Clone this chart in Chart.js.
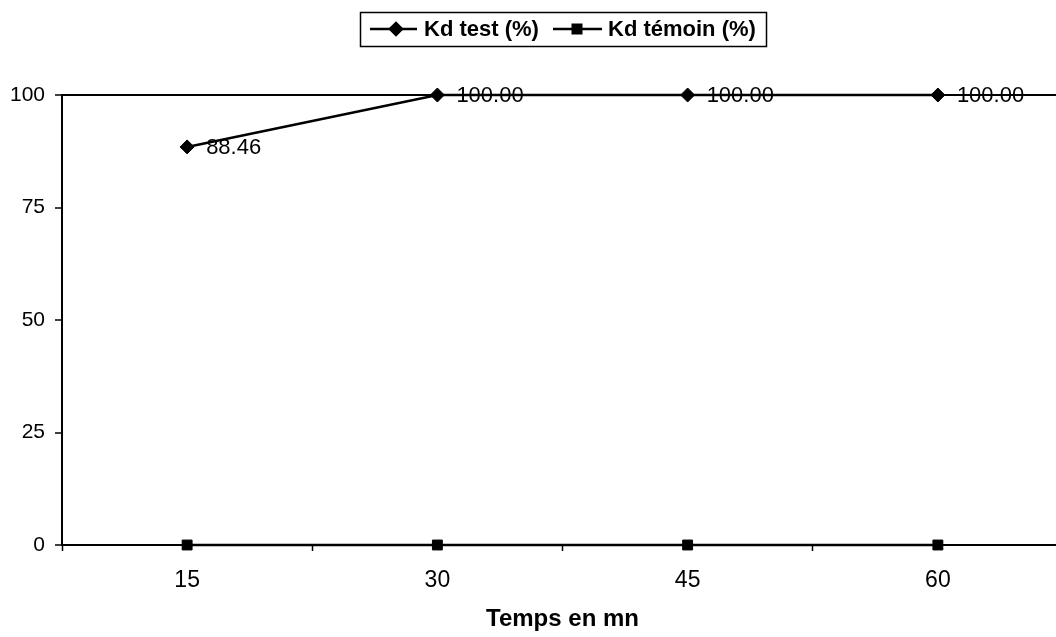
<!DOCTYPE html>
<html>
<head>
<meta charset="utf-8">
<script src="https://cdn.jsdelivr.net/npm/chart.js@4/dist/chart.umd.min.js"></script>
<style>
html,body{margin:0;padding:0;background:#fff;overflow:hidden;}
#wrap{width:1071px;height:637px;}
</style>
</head>
<body>
<div id="wrap"><canvas id="c" width="1071" height="637"></canvas></div>
<script>
const categories = ['15', '30', '45', '60'];
const kdTest = [88.46, 100, 100, 100];
const kdTemoin = [0, 0, 0, 0];
const yTicks = [0, 25, 50, 75, 100];
const seriesNames = ['Kd test (%)', 'Kd témoin (%)'];
const xTitle = 'Temps en mn';

const FONT = '"Liberation Sans", Arial, sans-serif';

const legendPlugin = {
  id: 'boxLegend',
  afterDraw(chart) {
    const ctx = chart.ctx;
    ctx.save();
    ctx.strokeStyle = '#000';
    ctx.lineWidth = 1.5;
    ctx.strokeRect(360.5, 12.5, 406, 34);
    const cy = 29;
    const items = [
      {x0: 370, x1: 417, mx: 396, style: 'rectRot', tx: 424, text: seriesNames[0]},
      {x0: 553, x1: 602, mx: 577, style: 'rect', tx: 608, text: seriesNames[1]}
    ];
    ctx.font = 'bold 22px ' + FONT;
    ctx.textBaseline = 'middle';
    ctx.textAlign = 'left';
    items.forEach(it => {
      ctx.strokeStyle = '#000';
      ctx.lineWidth = 2.5;
      ctx.beginPath();
      ctx.moveTo(it.x0, cy);
      ctx.lineTo(it.x1, cy);
      ctx.stroke();
      Chart.helpers.drawPoint(ctx, {pointStyle: it.style, radius: 6, borderWidth: 1}, it.mx, cy);
      ctx.fillStyle = '#000';
      ctx.fill();
      ctx.fillText(it.text, it.tx, cy + 1);
    });
    ctx.restore();
  }
};

const labelPlugin = {
  id: 'valueLabels',
  afterDatasetsDraw(chart) {
    const ctx = chart.ctx;
    const meta = chart.getDatasetMeta(0);
    ctx.save();
    ctx.font = '22px ' + FONT;
    ctx.fillStyle = '#000';
    ctx.textAlign = 'left';
    ctx.textBaseline = 'middle';
    meta.data.forEach((pt, i) => {
      ctx.fillText(kdTest[i].toFixed(2), pt.x + 19, pt.y + 1);
    });
    ctx.restore();
  }
};

new Chart(document.getElementById('c'), {
  type: 'line',
  data: {
    labels: categories,
    datasets: [
      {
        label: seriesNames[0],
        data: kdTest,
        borderColor: '#000',
        backgroundColor: '#000',
        borderWidth: 2.5,
        pointStyle: 'rectRot',
        pointRadius: 7,
        pointBorderWidth: 1,
        tension: 0,
        clip: false
      },
      {
        label: seriesNames[1],
        data: kdTemoin,
        borderColor: '#000',
        backgroundColor: '#000',
        borderWidth: 2.5,
        pointStyle: 'rect',
        pointRadius: 7,
        pointBorderWidth: 1,
        tension: 0,
        clip: false
      }
    ]
  },
  options: {
    responsive: false,
    animation: false,
    layout: {padding: {top: 95, left: 0, right: 0, bottom: 0}},
    plugins: {
      legend: {display: false},
      tooltip: {enabled: false}
    },
    scales: {
      x: {
        type: 'category',
        offset: true,
        grid: {
          offset: true,
          color: 'transparent',
          tickColor: '#000',
          tickLength: 6,
          tickWidth: 1.5
        },
        border: {color: '#000', width: 2},
        ticks: {
          color: '#000',
          font: {family: FONT, size: 23},
          padding: 16,
          maxRotation: 0
        },
        title: {
          display: true,
          text: xTitle,
          color: '#000',
          font: {family: FONT, size: 24, weight: 'bold'},
          padding: {top: 0, bottom: 3}
        },
        afterFit(scale) { scale.height = 92; }
      },
      y: {
        min: 0,
        max: 100,
        afterBuildTicks(scale) { scale.ticks = yTicks.map(v => ({value: v})); },
        grid: {
          color: ctx => (ctx.tick && ctx.tick.value === 100) ? '#000' : 'transparent',
          lineWidth: 2,
          tickColor: '#000',
          tickLength: 7,
          tickWidth: 1.5
        },
        border: {color: '#000', width: 2},
        ticks: {
          color: '#000',
          font: {family: FONT, size: 21},
          padding: 10
        },
        afterFit(scale) { scale.width = 62; }
      }
    }
  },
  plugins: [legendPlugin, labelPlugin]
});
</script>
</body>
</html>
